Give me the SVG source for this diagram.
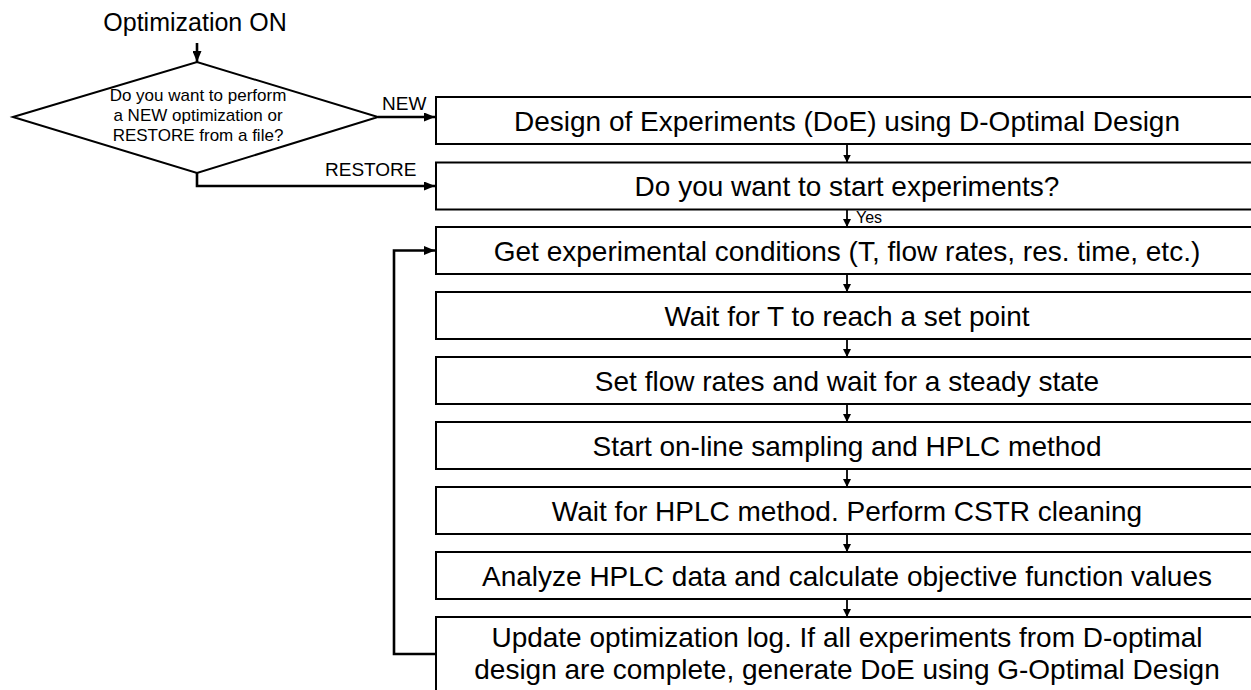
<svg xmlns="http://www.w3.org/2000/svg" width="1251" height="690" viewBox="0 0 1251 690">
<style>
text{font-family:"Liberation Sans",Arial,Helvetica,sans-serif;fill:#000}
.box{fill:#fff;stroke:#000;stroke-width:2}
.bt{font-size:28px;text-anchor:middle}
.dt{font-size:17px;text-anchor:middle}
.lbl{font-size:19px}
.thick{fill:none;stroke:#000;stroke-width:2.6;marker-end:url(#big)}
.thin{fill:none;stroke:#000;stroke-width:1.8;marker-end:url(#small)}
</style>
<defs>
<marker id="big" markerUnits="userSpaceOnUse" markerWidth="11" markerHeight="9" refX="11" refY="4.5" orient="auto"><path d="M0,0 L11,4.5 L0,9 z" fill="#000"/></marker>
<marker id="small" markerUnits="userSpaceOnUse" markerWidth="8" markerHeight="8" refX="8" refY="4" orient="auto"><path d="M0,0 L8,4 L0,8 z" fill="#000"/></marker>
</defs>
<rect width="1251" height="690" fill="#fff"/>
<g id="start"><text x="195" y="31" style="font-size:25px;text-anchor:middle">Optimization ON</text></g>
<g id="decision">
<polygon points="13,117 197,62 378,117 197,173" fill="#fff" stroke="#000" stroke-width="2"/>
<text class="dt" x="198" y="101">Do you want to perform</text>
<text class="dt" x="198" y="121">a NEW optimization or</text>
<text class="dt" x="198" y="141">RESTORE from a file?</text>
</g>
<g id="n1"><rect class="box" x="436" y="97" width="840" height="47"/><text class="bt" x="847" y="131">Design of Experiments (DoE) using D-Optimal Design</text></g>
<g id="n2"><rect class="box" x="436" y="162.5" width="840" height="47"/><text class="bt" x="847" y="196">Do you want to start experiments?</text></g>
<g id="n3"><rect class="box" x="436" y="227" width="840" height="47"/><text class="bt" x="847" y="261">Get experimental conditions (T, flow rates, res. time, etc.)</text></g>
<g id="n4"><rect class="box" x="436" y="292" width="840" height="47"/><text class="bt" x="847" y="326">Wait for T to reach a set point</text></g>
<g id="n5"><rect class="box" x="436" y="357" width="840" height="47"/><text class="bt" x="847" y="391">Set flow rates and wait for a steady state</text></g>
<g id="n6"><rect class="box" x="436" y="422" width="840" height="47"/><text class="bt" x="847" y="456">Start on-line sampling and HPLC method</text></g>
<g id="n7"><rect class="box" x="436" y="487" width="840" height="47"/><text class="bt" x="847" y="521">Wait for HPLC method. Perform CSTR cleaning</text></g>
<g id="n8"><rect class="box" x="436" y="552" width="840" height="47"/><text class="bt" x="847" y="586">Analyze HPLC data and calculate objective function values</text></g>
<g id="n9"><rect class="box" x="436" y="617" width="840" height="90"/><text class="bt" x="847" y="647">Update optimization log. If all experiments from D-optimal</text><text class="bt" x="847" y="679">design are complete, generate DoE using G-Optimal Design</text></g>
<g id="connectors">
<path class="thick" d="M197,43 V62"/>
<path class="thick" d="M378,117 H435"/>
<path class="thick" d="M197,173 V186 H435"/>
<path class="thick" d="M436,654 H394 V250.5 H435"/>
<path class="thin" d="M847,144 V162.5"/>
<path class="thin" d="M847,209.5 V227"/>
<path class="thin" d="M847,274 V292"/>
<path class="thin" d="M847,339 V357"/>
<path class="thin" d="M847,404 V422"/>
<path class="thin" d="M847,469 V487"/>
<path class="thin" d="M847,534 V552"/>
<path class="thin" d="M847,599 V617"/>
<text class="lbl" x="382" y="109.5">NEW</text>
<text class="lbl" x="325" y="176">RESTORE</text>
<text x="856" y="223" style="font-size:16px">Yes</text>
</g>
</svg>
